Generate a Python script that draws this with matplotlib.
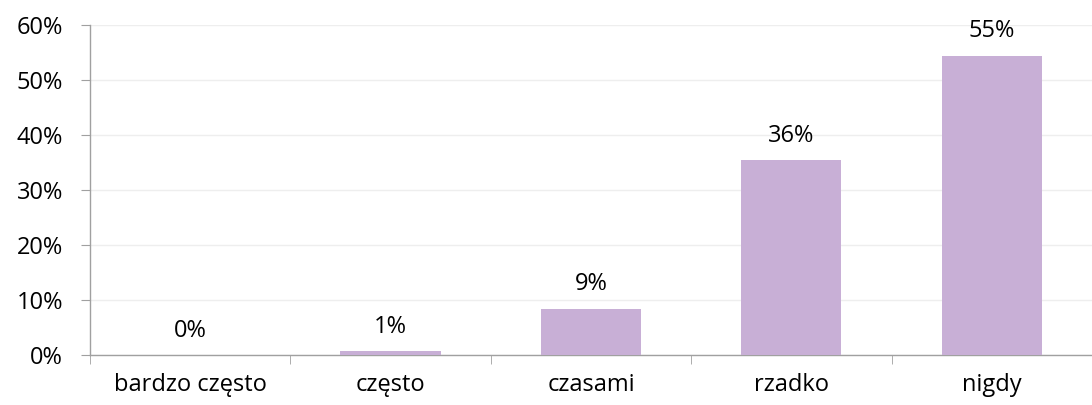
import numpy as np
import matplotlib
matplotlib.use("Agg")
import matplotlib.pyplot as plt
from matplotlib.ticker import FuncFormatter

# data
categories = ["bardzo często", "często", "czasami", "rzadko", "nigdy"]
values = [0.0, 0.7, 8.5, 35.5, 54.5]
labels = ["0%", "1%", "9%", "36%", "55%"]
yticks = [0, 10, 20, 30, 40, 50, 60]

plt.rcParams["font.family"] = ["Open Sans", "DejaVu Sans"]

fig = plt.figure(figsize=(10.92, 4.05), dpi=100)
ax = fig.add_axes([0.0824, 0.1227, 0.9176, 0.8148])

x = np.arange(len(categories))
bars = ax.bar(x, values, width=0.5, color="#C8AFD6", zorder=3)

for b, lab in zip(bars, labels):
    ax.annotate(lab, (b.get_x() + b.get_width() / 2, b.get_height()),
                xytext=(0, 9), textcoords="offset points",
                ha="center", va="bottom", fontsize=17, color="#000000")

ax.set_ylim(0, 60)
ax.set_xlim(-0.5, 4.436)
ax.set_yticks(yticks)
ax.yaxis.set_major_formatter(FuncFormatter(lambda v, p: f"{v:.0f}%"))
ax.set_xticks(x)
ax.set_xticklabels(categories)
ax.set_xticks(np.arange(len(categories) + 1) - 0.5, minor=True)

ax.grid(axis="y", color="#EEEEEE", linewidth=1.0, zorder=0)
for s in ["top", "right"]:
    ax.spines[s].set_visible(False)
for s in ["left", "bottom"]:
    ax.spines[s].set_color("#A0A0A0")
    ax.spines[s].set_linewidth(1.0)

ax.tick_params(axis="y", length=6.5, color="#A0A0A0", pad=13, labelsize=17)
ax.tick_params(axis="x", which="major", length=0, pad=13, labelsize=17)
ax.tick_params(axis="x", which="minor", length=6.5, color="#A0A0A0")

fig.savefig("out.png", dpi=100)
